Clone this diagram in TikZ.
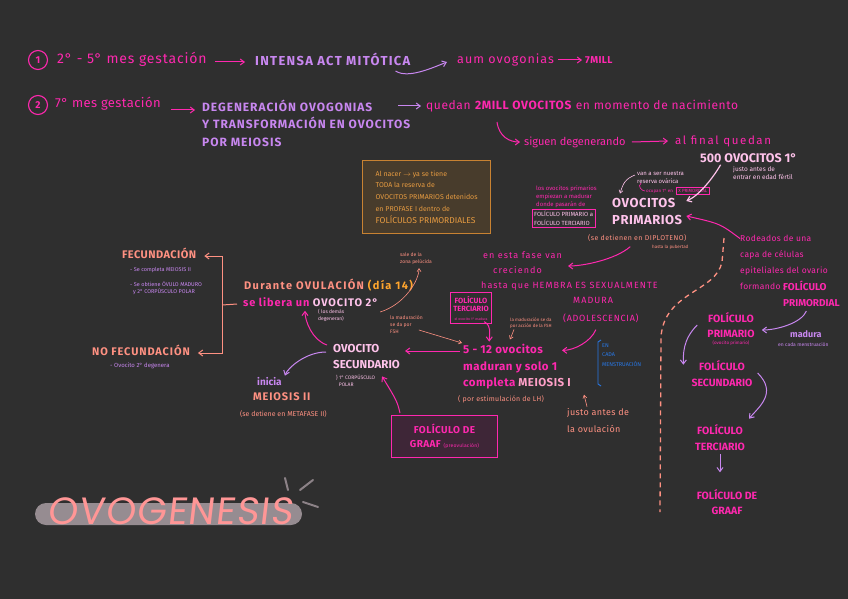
\documentclass[tikz,border=0pt]{standalone}
\usepackage{fontspec}
\setmainfont{Fira Sans}
\newfontfamily\titlefont[FakeSlant=0.12,LetterSpace=3]{Poppins}
\usetikzlibrary{arrows.meta,calc}
\definecolor{bg}{RGB}{47,47,47}
\definecolor{mag}{RGB}{255,40,175}
\definecolor{lav}{RGB}{200,135,240}
\definecolor{lpink}{RGB}{255,195,235}
\definecolor{salmon}{RGB}{255,145,130}
\definecolor{orng}{RGB}{255,165,45}
\definecolor{blu}{RGB}{40,120,230}
\definecolor{ybord}{RGB}{200,130,50}
\definecolor{yfill}{RGB}{72,60,44}
\definecolor{ytext}{RGB}{230,155,65}
\definecolor{gfill}{RGB}{62,38,55}
\definecolor{meic}{RGB}{255,160,200}
\definecolor{barc}{RGB}{150,140,145}
\definecolor{ttlc}{RGB}{255,150,150}
\definecolor{spark}{RGB}{140,130,135}
\newcommand\fsz[2]{\fontsize{#1}{#2}\selectfont}
\newcommand\lsp[1]{\addfontfeature{LetterSpace=#1}}
\begin{document}
\begin{tikzpicture}[x=1pt,y=-1pt,
  every node/.style={inner sep=0pt},
  tx/.style={anchor=west,align=left},
  arr/.style={-{Straight Barb[length=4pt,width=6pt]},line width=1pt},
  thinarr/.style={-{Straight Barb[length=3pt,width=4pt]},line width=0.6pt},
  numc/.style={circle,draw=mag,line width=1.1pt,minimum size=19pt,text=mag,font=\fsz{10}{12}\bfseries}]
\fill[bg] (0,0) rectangle (848,599);
\useasboundingbox (0,0) rectangle (848,599);

% Row 1
\node[numc] (c1) at (38,60) {1};
\node[tx,text=mag,font=\fsz{14}{16}\lsp{6}] (r1a) at (57,59) {2° - 5° mes gestación};
\node[tx,text=lav,font=\fsz{13}{15}\bfseries\lsp{10}] (r1b) at (255,59) {INTENSA ACT MITÓTICA};
\node[tx,text=mag,font=\fsz{12.5}{15}\lsp{8}] (r1c) at (457,60) {aum ovogonias};
\node[tx,text=mag,font=\fsz{10}{12}\bfseries\lsp{4}] (r1d) at (585,60) {7MILL};
\draw[arr,mag] ($(r1a.east)+(8,3)$) -- ($(r1b.west)+(-10,3)$);
\draw[arr,lav] ($(r1b.east)+(-15,12)$) .. controls +(12,8) and +(-15,6) .. ($(r1c.west)+(-10,2)$);
\draw[arr,mag] ($(r1c.east)+(4,0)$) -- ($(r1d.west)+(-3,0)$);

% Row 2
\node[numc] (c2) at (38,105) {2};
\node[tx,text=mag,font=\fsz{13}{15}\lsp{3}] (r2a) at (55,104) {7° mes gestación};
\node[tx,text=lav,font=\fsz{12}{17.5}\bfseries\lsp{8}] (r2b) at (202,123) {DEGENERACIÓN OVOGONIAS\\Y TRANSFORMACIÓN EN OVOCITOS\\POR MEIOSIS};
\draw[arr,mag] ($(r2a.east)+(10,6)$) -- ($(r2b.west)+(-7,-13)$);
\node[tx,text=mag,font=\fsz{12}{14}\lsp{5}] (r2c) at (426,106) {quedan \textbf{2MILL OVOCITOS} en momento de nacimiento};
\draw[arr,lav] ($(r2c.west)+(-28,0)$) -- ($(r2c.west)+(-5,0)$);
\node[tx,text=mag,font=\fsz{11}{13}] (r2d) at (524,142) {siguen degenerando};
\draw[arr,mag] ($(r2c.west)+(71,16)$) .. controls +(2,15) and +(-10,0) .. ($(r2d.west)+(-4,0)$);
\node[tx,text=mag,font=\fsz{11.5}{13}\lsp{14}] (r2e) at (675,141) {al final quedan};
\draw[arr,mag] ($(r2d.east)+(6,0)$) -- ($(r2e.west)+(-7,0)$);
\node[tx,text=lpink,font=\fsz{12.5}{15}\bfseries] (r2f) at (700,158) {500 OVOCITOS 1°};
\node[tx,text=lpink,font=\fsz{6.5}{8}] (r2g) at (733,173) {justo antes de\\entrar en edad fértil};

% Yellow box
\node[draw=ybord,fill=yfill,line width=1.2pt,anchor=north west,minimum width=128pt,minimum height=73pt,align=left,inner sep=6pt,text=ytext,font=\fsz{7}{11.8}] (ybox) at (362,160) {Al nacer $\rightarrow$ ya se tiene\\TODA la reserva de\\OVOCITOS PRIMARIOS detenidos\\en PROFASE I dentro de\\{\fsz{8.5}{11.8}FOLÍCULOS PRIMORDIALES}};

% Ovocitos primarios
\node[tx,text=lpink,font=\fsz{13}{17}\bfseries\lsp{4}] (opri) at (612,211) {OVOCITOS\\PRIMARIOS};
\node[tx,text=salmon,font=\fsz{7}{9}\lsp{6}] (opd) at (588,238) {(se detienen en DIPLOTENO)};
\node[tx,text=salmon,font=\fsz{4.5}{6}] (opp) at (652,247) {hasta la pubertad};
\node[tx,text=lpink,font=\fsz{6}{8}] (vr) at (637,178) {van a ser nuestra\\reserva ovárica};
\draw[thinarr,lpink] ($(vr.west)+(-2,-3)$) .. controls +(-10,4) and +(3,-10) .. ($(opri.north west)+(8,-4)$);
\node[tx,text=mag,font=\fsz{4.5}{5}] (ocu) at (646,191) {ocupan 1° en};
\node[tx,draw=mag,text=mag,font=\fsz{4.5}{5},inner sep=2pt] (xprim) at ($(ocu.east)+(3,0)$) {X PRIMORDIAL};
\draw[mag,line width=0.6pt] ($(vr.south west)+(4,-1)$) .. controls +(-4,3) and +(-3,0) .. ($(ocu.west)+(-1,0)$);
\draw[arr,lpink,line width=1.2pt] ($(r2f.south)+(-28,2)$) .. controls +(-8,14) and +(12,-5) .. ($(opri.east)+(4,-10)$);
\node[tx,text=mag,font=\fsz{6}{8}] (lov) at (536,197) {los ovocitos primarios\\empiezan a madurar\\donde pasarán de};
\node[tx,draw=mag,text=lpink,font=\fsz{6}{9},inner sep=2pt] (lbox) at (532,218) {FOLÍCULO PRIMARIO a\\FOLÍCULO TERCIARIO};

% Rodeados
\node[tx,text=mag,font=\fsz{8.5}{16}\lsp{4}] (rod) at (740,262) {Rodeados de una\\capa de células\\epiteliales del ovario\\formando :};
\node[tx,text=mag,font=\fsz{10}{16}\bfseries] (fpr) at (783,294) {FOLÍCULO\\PRIMORDIAL};
\draw[arr,mag] ($(rod.north west)+(0,4)$) .. controls +(-20,-15) .. ($(opri.east)+(4,5)$);

% dashed divider
\draw[salmon,line width=1.3pt,dash pattern=on 5pt off 4pt] (724,238) -- (722,262) .. controls (716,292) and (664,292) .. (661,337) -- (660,512);

% Right column
\node[text=mag,font=\fsz{10.5}{15}\bfseries,align=center] (fp) at (731,325) {FOLÍCULO\\PRIMARIO};
\node[text=mag,font=\fsz{4.5}{5}] (fp2) at ($(fp.south)+(0,5)$) {(ovocito primario)};
\node[tx,text=lav,font=\fsz{9}{10}\bfseries] (mad) at (790,334) {madura};
\node[tx,text=lav,font=\fsz{5}{6}] (mad2) at (778,345) {en cada menstruación};
\draw[arr,lav] ($(fpr.south)+(-5,4)$) .. controls +(-5,12) and +(15,0) .. ($(fp.east)+(7,5)$);
\node[text=mag,font=\fsz{10.5}{16}\bfseries,align=center] (fs) at (722,374) {FOLÍCULO\\SECUNDARIO};
\draw[arr,lav] ($(fp.west)+(-10,0)$) .. controls +(-15,15) and +(0,-10) .. ($(fs.north west)+(-8,4)$);
\node[text=mag,font=\fsz{10.5}{16}\bfseries,align=center] (ft) at (720,438) {FOLÍCULO\\TERCIARIO};
\draw[arr,lav] ($(fs.east)+(5,-1)$) .. controls +(20,20) and +(10,-12) .. ($(ft.north east)+(4,-6)$);
\node[text=mag,font=\fsz{10.5}{15}\bfseries,align=center] (fg) at (727,502) {FOLÍCULO DE\\GRAAF};
\draw[arr,lav] ($(ft.south)+(0,3)$) -- ($(ft.south)+(0,21)$);

% Ovulación
\node[tx,text=salmon,font=\fsz{11}{13}\bfseries\lsp{12}] (dur) at (244,285) {Durante OVULACIÓN \textcolor{orng}{(día 14)}};
\node[tx,text=mag,font=\fsz{11}{13}\bfseries\lsp{8}] (lib) at (243,302) {se libera un \textcolor{lpink}{OVOCITO 2°}};
\node[tx,text=lpink,font=\fsz{5}{7}] (dem) at (318,315) {( los demás\\degeneran)};
\node[tx,text=salmon,font=\fsz{11}{13}\bfseries\lsp{4}] (fec) at (122,253) {FECUNDACIÓN};
\node[tx,text=lav,font=\fsz{5.5}{7}] (fec1) at (130,270) {- Se completa MEIOSIS II};
\node[tx,text=lav,font=\fsz{5.5}{7.5}] (fec2) at (130,288) {- Se obtiene ÓVULO MADURO\\\ \ y 2° CORPÚSCULO POLAR};
\node[tx,text=salmon,font=\fsz{11}{13}\bfseries\lsp{8}] (nofec) at (92,350) {NO FECUNDACIÓN};
\node[tx,text=lav,font=\fsz{6}{7}] (nofec1) at (110,366) {- Ovocito 2° degenera};
\coordinate (brm) at (222,305);
\draw[salmon,line width=1pt] ($(lib.west)+(-6,2)$) -- (brm);
\draw[arr,salmon] (brm) |- ($(fec.east)+(8,3)$);
\draw[arr,salmon] (brm) |- ($(nofec.east)+(8,3)$);
\node[tx,text=salmon,font=\fsz{5}{7}] (sale) at (400,259) {sale de la\\zona pelúcida};
\draw[thinarr,salmon] ($(lib.east)+(2,10)$) .. controls +(25,-8) and +(0,12) .. ($(sale.south)+(3,3)$);

% Ovocito secundario
\node[tx,text=lpink,font=\fsz{11.5}{16}\bfseries] (sec) at (333,357) {OVOCITO\\SECUNDARIO};
\node[tx,text=lpink,font=\fsz{5}{7}] (sec1) at (336,381) {\} 1° CORPÚSCULO\\\ \ POLAR};
\node[tx,text=lav,font=\fsz{10}{12}\bfseries] (ini) at (257,382) {inicia};
\node[tx,text=salmon,font=\fsz{11}{13}\bfseries\lsp{8}] (mei2) at (253,397) {MEIOSIS II};
\node[tx,text=salmon,font=\fsz{7}{8}] (det) at (240,414) {(se detiene en METAFASE II)};
\draw[arr,mag] ($(sec.west)+(-6,-12)$) .. controls +(-15,-5) and +(0,10) .. ($(lib.south west)+(62,4)$);
\draw[arr,lav] ($(sec.west)+(-7,-5)$) .. controls +(-20,0) and +(3,-8) .. ($(ini.north east)+(3,-2)$);

% 5-12 ovocitos
\node[tx,text=mag,font=\fsz{9}{14}\lsp{12}] (e1) at (483,255) {en esta fase van};
\node[tx,text=mag,font=\fsz{9}{14}\lsp{12}] (e2) at (493,270) {creciendo};
\node[tx,text=mag,font=\fsz{9}{14}\lsp{12}] (e3) at (481,286) {hasta que HEMBRA ES SEXUALMENTE};
\node[tx,text=mag,font=\fsz{9}{14}\lsp{12}] (e4) at (573,300) {MADURA};
\node[tx,text=mag,font=\fsz{9}{14}\lsp{8}] (e5) at (563,318) {(ADOLESCENCIA)};
\draw[arr,mag] ($(opd.south)+(-7,5)$) .. controls +(-15,13) and +(15,0) .. ($(e1.east)+(6,11)$);
\node[tx,text=mag,font=\fsz{11.5}{16.5}\bfseries\lsp{4}] (five) at (463,367) {5 - 12 ovocitos\\maduran y solo 1\\completa \textcolor{meic}{MEIOSIS I}};
\draw[arr,mag] ($(e5.south)+(-5,7)$) .. controls +(-5,12) and +(12,0) .. ($(five.north west)+(99,6)$);
\draw[arr,mag] ($(five.west)+(-3,-16)$) -- ($(sec.east)+(5,-6)$);
\node[tx,text=salmon,font=\fsz{7}{9}\lsp{4}] (lh) at (458,399) {( por estimulación de LH)};
\draw[blu,line width=0.9pt] (601,340) -- (598,342) -- (598,384) -- (601,386);
\node[tx,text=blu,font=\fsz{5.5}{9.5}] (men) at (602,355) {EN\\CADA\\MENSTRUACIÓN};
\node[tx,text=salmon,font=\fsz{9}{17}\lsp{4}] (jus) at (567,421) {justo antes de\\la ovulación};
\draw[thinarr,salmon] ($(jus.north west)+(20,-2)$) -- +(-3,-12);
\node[draw=mag,line width=1pt,text=mag,font=\fsz{7.5}{8.5}\bfseries,align=center,inner sep=3pt] (fter) at (471,308) {FOLÍCULO\\TERCIARIO\\{\fsz{3.5}{4}\mdseries el ovocito 1° madura}};
\draw[arr,mag] ($(fter.south east)+(-8,-2)$) .. controls +(8,5) and +(0,-8) .. ($(fter.south east)+(-3,18)$);
\node[tx,text=salmon,font=\fsz{4.5}{6}] (fsh2) at (510,323) {la maduración se da\\por acción de la FSH};
\draw[thinarr,salmon] ($(fsh2.south west)+(4,1)$) -- +(-4,10);
\node[tx,text=salmon,font=\fsz{5}{7}] (fsh1) at (390,325) {la maduración\\se da por\\FSH};
\draw[thinarr,salmon] ($(fsh1.east)+(-4,5)$) -- ($(five.west)+(-1,-24)$);

% Graaf box
\node[draw=mag,fill=gfill,line width=1pt,anchor=north west,minimum width=106pt,minimum height=42pt,align=center,text=mag,font=\fsz{10}{14}\bfseries\lsp{4}] (graaf) at (391,415) {FOLÍCULO DE\\GRAAF {\fsz{5}{6}\mdseries(preovulación)}};
\draw[arr,mag] ($(graaf.north west)+(9,-2)$) .. controls +(-3,-12) .. ($(sec.south east)+(-18,7)$);

% Title
\node[fill=barc,rounded corners=11pt,minimum width=267pt,minimum height=22pt] (bar) at (168.5,514) {};
\node[text=ttlc,font=\titlefont\fsz{38}{40}] (ttl) at (170,511) {OVOGENESIS};
\draw[spark,line width=2pt,line cap=round] (285,478) -- (288,490);
\draw[spark,line width=2pt,line cap=round] (300,490) -- (313,480);
\draw[spark,line width=2pt,line cap=round] (303,502) -- (318,507);
\end{tikzpicture}
\end{document}
